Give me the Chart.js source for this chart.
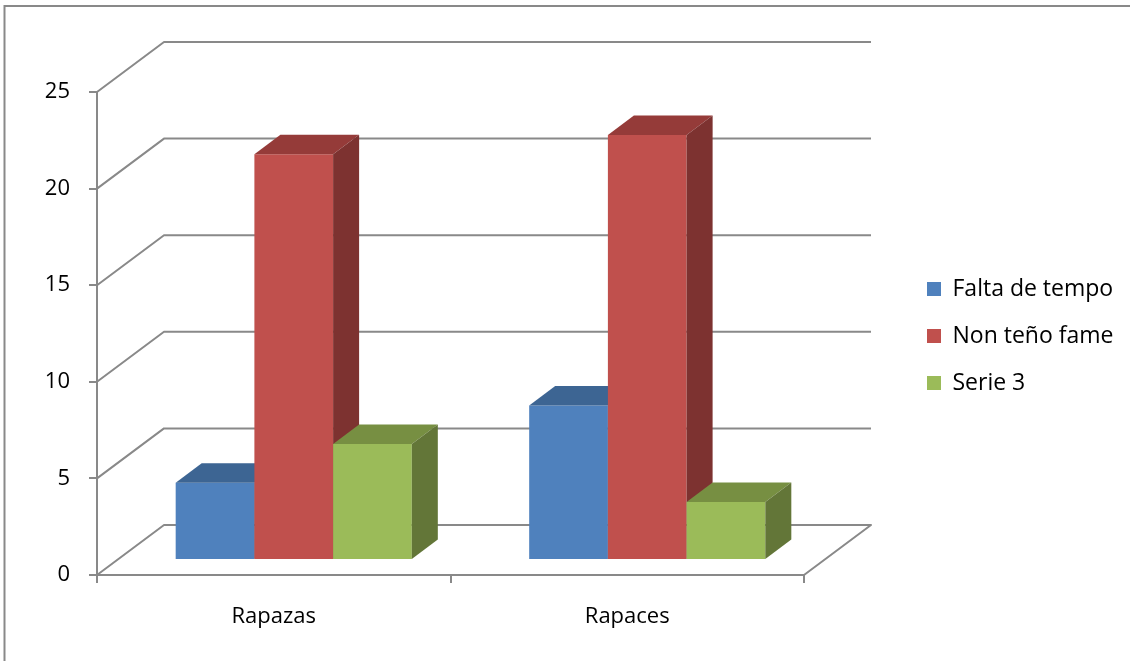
<!DOCTYPE html>
<html>
<head>
<meta charset="utf-8">
<script src="https://cdn.jsdelivr.net/npm/chart.js@4.4.1/dist/chart.umd.min.js"></script>
<style>
  html, body { margin: 0; padding: 0; background: #fff; }
  #chart { display: block; }
</style>
</head>
<body>
<canvas id="chart" width="1130" height="661"></canvas>
<script>
const categories = ['Rapazas', 'Rapaces'];
const seriesNames = ['Falta de tempo', 'Non teño fame', 'Serie 3'];
const faltaDeTempo = [4, 8];
const nonTenoFame = [21, 22];
const serie3 = [6, 3];
const yTicks = [0, 5, 10, 15, 20, 25];

const FONT = '"Open Sans", "Liberation Sans", sans-serif';
const GRID = '#898989';

// front / top / side shade of each series
const shades = [
    { front: '#4f81bd', top: '#3d6593', side: '#385d8a' },
    { front: '#c0504d', top: '#953b39', side: '#7d3230' },
    { front: '#9bbb59', top: '#778f42', side: '#637638' }
];

// depth of the back wall, and where the bars sit inside it
const WALL_DX = 67, WALL_DY = 50;
const BAR_DX = 20, BAR_DY = 15;
const BAR_DEPTH_X = 26, BAR_DEPTH_Y = 19.5;

// legend sits at a fixed x, so work out the right padding from the text width
const LEGEND_FONT = 23;
const LEGEND_BOX = 14;
const LEGEND_PAD = 24;
const LEGEND_LEFT = 927 - LEGEND_PAD;
const measure = document.createElement('canvas').getContext('2d');
measure.font = LEGEND_FONT + 'px ' + FONT;
const legendText = Math.max(...seriesNames.map(n => measure.measureText(n).width));
const legendWidth = LEGEND_PAD + LEGEND_BOX + LEGEND_FONT / 2 + legendText + 10;
const padRight = Math.max(0, 1130 - LEGEND_LEFT - legendWidth);

const threeD = {
    id: 'threeD',
    beforeDraw(chart) {
        // outer frame (only top and left edges are in the picture)
        const ctx = chart.ctx;
        ctx.save();
        ctx.strokeStyle = GRID;
        ctx.lineWidth = 2;
        ctx.beginPath();
        ctx.moveTo(4.5, chart.height);
        ctx.lineTo(4.5, 6);
        ctx.lineTo(chart.width, 6);
        ctx.stroke();
        ctx.restore();
    },
    beforeDatasetsDraw(chart) {
        // back wall + floor
        const { ctx, chartArea: a, scales: { y } } = chart;
        ctx.save();
        ctx.strokeStyle = GRID;
        ctx.lineWidth = 2;
        ctx.lineJoin = 'round';
        yTicks.forEach(v => {
            const py = y.getPixelForValue(v);
            ctx.beginPath();
            ctx.moveTo(a.left, py);
            ctx.lineTo(a.left + WALL_DX, py - WALL_DY);
            ctx.lineTo(a.right + WALL_DX, py - WALL_DY);
            if (v === 0) ctx.lineTo(a.right, py);
            ctx.stroke();
        });
        ctx.restore();
    },
    beforeDatasetDraw() {
        // bars are drawn below, left to right, so skip the default pass
        return false;
    },
    afterDatasetsDraw(chart) {
        const ctx = chart.ctx;
        chart.data.datasets.forEach((ds, i) => {
            const s = shades[i];
            chart.getDatasetMeta(i).data.forEach(bar => {
                const { x, y, base, width } = bar.getProps(['x', 'y', 'base', 'width'], true);
                const l = x - width / 2, r = x + width / 2;
                ctx.save();
                ctx.translate(BAR_DX, -BAR_DY);
                bar.draw(ctx);
                ctx.fillStyle = s.top;
                ctx.beginPath();
                ctx.moveTo(l, y);
                ctx.lineTo(l + BAR_DEPTH_X, y - BAR_DEPTH_Y);
                ctx.lineTo(r + BAR_DEPTH_X, y - BAR_DEPTH_Y);
                ctx.lineTo(r, y);
                ctx.closePath();
                ctx.fill();
                ctx.fillStyle = s.side;
                ctx.beginPath();
                ctx.moveTo(r, y);
                ctx.lineTo(r + BAR_DEPTH_X, y - BAR_DEPTH_Y);
                ctx.lineTo(r + BAR_DEPTH_X, base - BAR_DEPTH_Y);
                ctx.lineTo(r, base);
                ctx.closePath();
                ctx.fill();
                ctx.restore();
            });
        });
    }
};

Chart.defaults.font.family = FONT;
Chart.defaults.color = '#000';

const seriesData = [faltaDeTempo, nonTenoFame, serie3];

new Chart(document.getElementById('chart'), {
    type: 'bar',
    data: {
        labels: categories,
        datasets: seriesNames.map((name, i) => ({
            label: name,
            data: seriesData[i],
            backgroundColor: shades[i].front,
            borderWidth: 0,
            barPercentage: 1,
            categoryPercentage: 0.668
        }))
    },
    options: {
        responsive: false,
        animation: false,
        layout: { padding: { top: 37, bottom: 26, left: 0, right: padRight } },
        plugins: {
            tooltip: { enabled: false },
            // empty title only reserves the space above the plot
            title: { display: true, text: '', padding: 0, font: { size: 55, lineHeight: 1 } },
            legend: {
                position: 'right',
                maxWidth: 400,
                labels: {
                    font: { size: LEGEND_FONT },
                    boxWidth: LEGEND_BOX,
                    boxHeight: LEGEND_BOX,
                    padding: LEGEND_PAD,
                    color: '#000'
                }
            }
        },
        scales: {
            x: {
                grid: { display: true, drawOnChartArea: false, tickLength: 8, color: GRID, lineWidth: 2, offset: true },
                border: { color: GRID, width: 2 },
                ticks: { padding: 21, font: { size: 22 } },
                afterFit(s) { s.height = 60; }
            },
            y: {
                min: 0,
                max: 25,
                grid: { display: true, drawOnChartArea: false, tickLength: 8, color: GRID, lineWidth: 2 },
                border: { color: GRID, width: 2 },
                ticks: { stepSize: 5, padding: 19, font: { size: 22 } },
                afterFit(s) { s.width = 97; }
            },
            yr: {
                type: 'linear',
                position: 'right',
                grid: { display: false },
                border: { display: false },
                ticks: { display: false },
                afterFit(s) { s.width = 99; }
            }
        }
    },
    plugins: [threeD]
});
</script>
</body>
</html>
